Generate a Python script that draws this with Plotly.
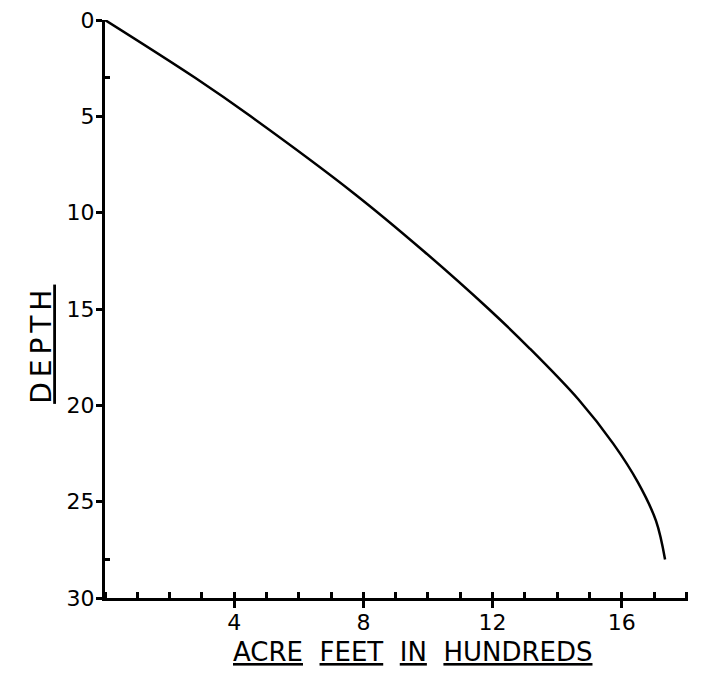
import plotly.graph_objects as go

# Depth (feet) vs capacity (acre feet, hundreds)
depth = [0, 3, 5, 9, 12, 15, 17, 19.7, 22, 24, 26, 28]
acre_feet_hundreds = [0, 2.79, 4.51, 7.71, 9.87, 11.88, 13.12, 14.66, 15.74, 16.50, 17.06, 17.34]

x_tick_vals = [4, 8, 12, 16]
x_tick_text = ["4", "8", "12", "16"]
y_tick_vals = [0, 5, 10, 15, 20, 25, 30]
y_tick_text = ["0", "5", "10", "15", "20", "25", "30"]
y_minor_vals = [3, 28]

FONT = "DejaVu Sans"
NB = "\u00a0"

fig = go.Figure()
fig.add_trace(go.Scatter(
    x=acre_feet_hundreds, y=depth, mode="lines",
    line=dict(color="black", width=2.5, shape="spline", smoothing=1.0),
    hoverinfo="skip", showlegend=False,
))

fig.update_layout(
    width=703, height=675,
    margin=dict(l=97, r=23, t=12, b=85, autoexpand=False),
    paper_bgcolor="white", plot_bgcolor="white",
    font=dict(family=FONT, color="black", size=22),
    xaxis=dict(
        range=[0, 18.05], showgrid=False, zeroline=False, automargin=False,
        showline=True, linecolor="black", linewidth=3,
        tickmode="array", tickvals=x_tick_vals, ticktext=x_tick_text,
        ticks="outside", ticklen=7, tickwidth=2.5, tickcolor="black",
        tickfont=dict(family=FONT, size=22),
        ticklabelstandoff=-4, ticklabeloverflow="allow",
        minor=dict(dtick=1, tick0=0, ticks="inside", ticklen=6, tickwidth=2.5,
                   tickcolor="black", showgrid=False),
    ),
    yaxis=dict(
        range=[30, 0], showgrid=False, zeroline=False, automargin=False,
        showline=True, linecolor="black", linewidth=3,
        tickmode="array", tickvals=y_tick_vals, ticktext=y_tick_text,
        ticks="outside", ticklen=6, tickwidth=2.5, tickcolor="black",
        tickfont=dict(family=FONT, size=22),
        ticklabelstandoff=-3, ticklabeloverflow="allow",
        minor=dict(tickmode="array", tickvals=y_minor_vals, ticks="inside",
                   ticklen=5, tickwidth=2.5, tickcolor="black", showgrid=False),
    ),
    annotations=[
        dict(text=f"<u>ACRE</u> {NB}<u>FEET</u> {NB}<u>IN</u> {NB}<u>HUNDREDS</u>",
             xref="paper", yref="paper", x=0.527, y=-0.0934,
             xanchor="center", yanchor="middle", showarrow=False,
             font=dict(family=FONT, size=26, color="black")),
        dict(text='<u><span style="letter-spacing:5px">DEPTH</span></u>',
             xref="paper", yref="paper", x=-0.108, y=0.438,
             xanchor="center", yanchor="middle", showarrow=False, textangle=-90,
             font=dict(family=FONT, size=28, color="black")),
    ],
)

fig.write_html("out.html")
